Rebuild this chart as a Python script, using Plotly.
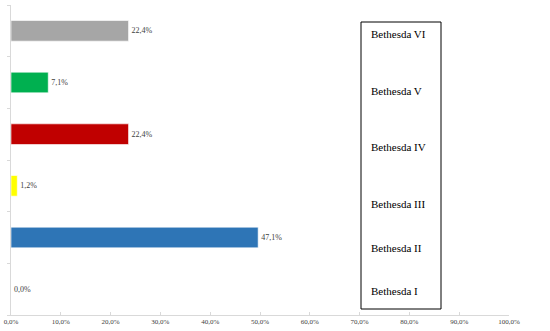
import plotly.graph_objects as go

categories = ["Bethesda I", "Bethesda II", "Bethesda III", "Bethesda IV", "Bethesda V", "Bethesda VI"]
values = [0.0, 47.1, 1.2, 22.4, 7.1, 22.4]
colors = ["#FFFFFF", "#2E75B6", "#FFFF00", "#C00000", "#00B050", "#A6A6A6"]
tick_vals = [0, 10, 20, 30, 40, 50, 60, 70, 80, 90, 100]
tick_text = [f"{v:.1f}%".replace(".", ",") for v in tick_vals]
legend_labels = ["Bethesda VI", "Bethesda V", "Bethesda IV", "Bethesda III", "Bethesda II", "Bethesda I"]
legend_y = [34, 91, 147, 204, 248, 291]

labels = [f"{v:.1f}%".replace(".", ",") for v in values]

fig = go.Figure()
fig.add_trace(go.Bar(
    x=values, y=categories, orientation="h", xaxis="x2",
    marker=dict(color=colors, line=dict(color="rgba(255,255,255,0.6)", width=1)),
    width=0.4, text=labels, textposition="outside", cliponaxis=False,
    textfont=dict(family="Liberation Serif", size=8, color="#404040"),
    showlegend=False,
))
fig.add_trace(go.Scatter(x=[0, 100], y=[categories[0], categories[0]], mode="markers",
                         marker=dict(opacity=0), showlegend=False, hoverinfo="skip"))

fig.update_layout(
    template="none",
    width=550, height=331,
    margin=dict(l=11, r=41, t=5, b=16, autoexpand=False),
    paper_bgcolor="white", plot_bgcolor="white",
    font=dict(family="Liberation Serif", color="#404040"),
    xaxis=dict(range=[0, 100], tickvals=tick_vals, ticktext=tick_text, automargin=False,
               showgrid=False, zeroline=False, showline=True, linecolor="#D9D9D9", linewidth=1,
               ticks="inside", ticklen=3, tickcolor="#D9D9D9",
               tickfont=dict(family="Liberation Serif", size=7, color="#404040")),
    xaxis2=dict(range=[0, 94.9], overlaying="x", visible=False, showgrid=False, zeroline=False,
                automargin=False),
    yaxis=dict(categoryorder="array", categoryarray=categories, showticklabels=False, automargin=False,
               showgrid=False, zeroline=False, showline=True, linecolor="#D9D9D9", linewidth=1,
               ticks="outside", ticklen=3, tickcolor="#D9D9D9", tickson="boundaries"),
    bargap=0.6,
)

fig.add_shape(type="rect", xref="paper", yref="paper",
              x0=(361 - 11) / 498, x1=(441 - 11) / 498,
              y0=(315 - 309) / 310, y1=(315 - 22) / 310,
              line=dict(color="#000000", width=1))
for lab, yy in zip(legend_labels, legend_y):
    fig.add_annotation(text=lab, xref="paper", yref="paper",
                       x=(369 - 11) / 498, y=(315 - yy) / 310,
                       xanchor="left", yanchor="middle", showarrow=False,
                       font=dict(family="Liberation Serif", size=11, color="#000000"))

fig.write_html("out.html", config={"displayModeBar": False},
               post_script="document.body.style.margin='0px';document.body.style.overflow='hidden';")
